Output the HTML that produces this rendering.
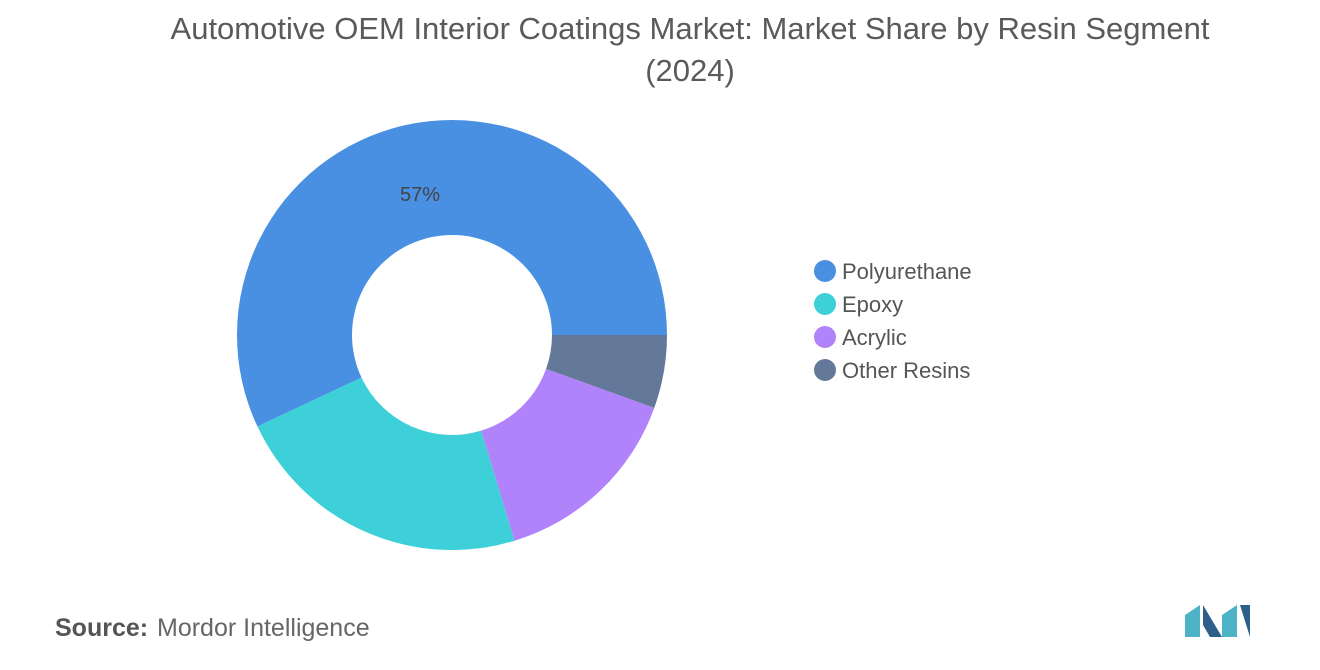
<!DOCTYPE html>
<html><head><meta charset="utf-8">
<style>
body{margin:0;background:#fff;width:1320px;height:665px;overflow:hidden;font-family:"Liberation Sans",sans-serif;}
</style></head>
<body>
<svg width="1320" height="665" viewBox="0 0 1320 665">
<text x="690" y="39" text-anchor="middle" font-size="31" fill="#5a5a5a">Automotive OEM Interior Coatings Market: Market Share by Resin Segment</text>
<text x="690" y="81" text-anchor="middle" font-size="31" fill="#5a5a5a">(2024)</text>
<g id="donut"></g>
<g id="legend"></g>
<text x="55" y="636" font-size="25" fill="#555" font-weight="bold">Source:</text>
<text x="157" y="636" font-size="25" fill="#666">Mordor Intelligence</text>
<g>
<polygon points="1185,637 1185,615 1200,605 1200,637" fill="#4fb3c8"/>
<polygon points="1203,605 1222,637 1210,637 1203,625" fill="#2c5f8a"/>
<polygon points="1222,637 1222,615 1237,605 1237,637" fill="#4fb3c8"/>
<polygon points="1240,605 1250,605 1250,637" fill="#2c5f8a"/>
</g>
</svg>
<script>
const categories=["Polyurethane","Epoxy","Acrylic","Other Resins"];
const values=[57,22.7,14.8,5.5];
const colors=["#4a90e2","#3ed0d9","#b083fb","#647999"];
const labels=["57%","","",""];
const NS="http://www.w3.org/2000/svg";
const cx=452,cy=335,R=215,r=100;
const total=values.reduce((a,b)=>a+b,0);
const g=document.getElementById("donut");
let a0=0;
function pt(rad,a){return [cx+rad*Math.cos(a),cy-rad*Math.sin(a)];}
values.forEach((v,i)=>{
  const a1=a0+v/total*2*Math.PI;
  const [x0,y0]=pt(R,a0),[x1,y1]=pt(R,a1),[x2,y2]=pt(r,a1),[x3,y3]=pt(r,a0);
  const large=(a1-a0)>Math.PI?1:0;
  const p=document.createElementNS(NS,"path");
  p.setAttribute("d",`M${x0},${y0}A${R},${R} 0 ${large} 0 ${x1},${y1}L${x2},${y2}A${r},${r} 0 ${large} 1 ${x3},${y3}Z`);
  p.setAttribute("fill",colors[i]);
  
  
  g.appendChild(p);
  if(labels[i]){
    const t=document.createElementNS(NS,"text");
    t.setAttribute("x",420);t.setAttribute("y",201);
    t.setAttribute("text-anchor","middle");t.setAttribute("font-size","20");t.setAttribute("fill","#444");
    t.textContent=labels[i];
    
    
    g.appendChild(t);
  }
  a0=a1;
});
const lg=document.getElementById("legend");
categories.forEach((c,i)=>{
  const y=271+i*33;
  const e=document.createElementNS(NS,"g");
  
  
  const ci=document.createElementNS(NS,"circle");
  ci.setAttribute("cx",825);ci.setAttribute("cy",y);ci.setAttribute("r",11);ci.setAttribute("fill",colors[i]);
  const t=document.createElementNS(NS,"text");
  t.setAttribute("x",842);t.setAttribute("y",y+8);t.setAttribute("font-size","22");t.setAttribute("fill","#555");
  t.textContent=c;
  e.appendChild(ci);e.appendChild(t);lg.appendChild(e);
});
</script>
</body></html>
